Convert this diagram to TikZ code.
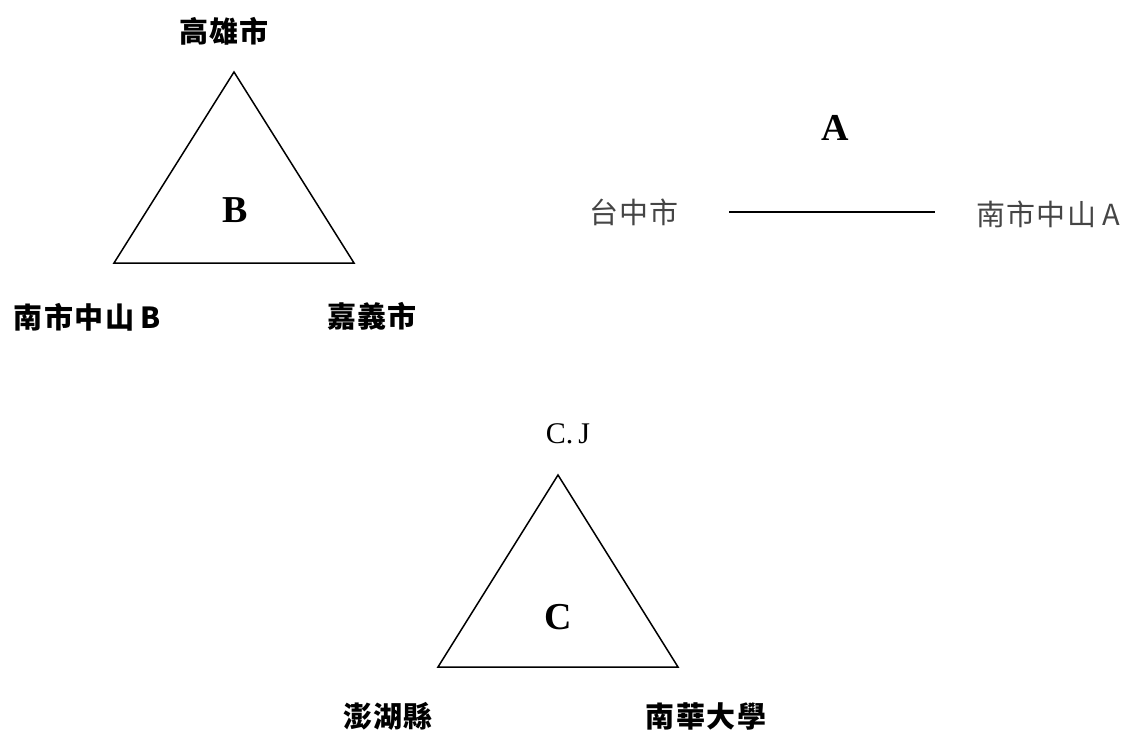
\documentclass[tikz,border=0pt]{standalone}
\usepackage{fontspec}
\setmainfont{Liberation Serif}
\newfontfamily\cjk[LetterSpace=5]{Noto Sans CJK TC}
\definecolor{softgray}{HTML}{454545}
\begin{document}
\begin{tikzpicture}[x=1pt,y=-1pt,
  tri/.style={line width=1.5pt, line join=miter},
  lbl/.style={font=\cjk\fontsize{29}{29}\selectfont\bfseries, inner sep=0pt},
  lightlbl/.style={font=\cjk\fontsize{29}{29}\selectfont, text=softgray, inner sep=0pt},
  plainlbl/.style={font=\rmfamily\fontsize{30}{30}\selectfont, inner sep=0pt},
  big/.style={font=\fontsize{38}{38}\selectfont\bfseries, inner sep=0pt}]
\useasboundingbox (0,0) rectangle (1128,734);
% Triangle B
\coordinate (b1) at (234,72);
\coordinate (b2) at (114,263);
\coordinate (b3) at (354,263);
\draw[tri] (b1) -- (b2) -- (b3) -- cycle;
\node[big] (bL) at (235,210) {B};
\node[lbl] (kh) at (224,31) {高雄市};
\node[lbl] (nsb) at (87,317) {南市中山\hspace{6pt}B};
\node[lbl] (cy) at (372,316) {嘉義市};
% A
\node[big] (aL) at (835,128) {A};
\node[lightlbl] (tc) at (634,212) {台中市};
\node[lightlbl] (nsa) at (1048,214) {南市中山\hspace{6pt}A};
\coordinate (a1) at (729,212);
\coordinate (a2) at (935,212);
\draw[line width=2pt] (a1) -- (a2);
% Triangle C
\coordinate (c1) at (558,475);
\coordinate (c2) at (438,667);
\coordinate (c3) at (678,667);
\draw[tri] (c1) -- (c2) -- (c3) -- cycle;
\node[big] (cL) at (558,617) {C};
\node[plainlbl] (cj) at (568,434) {C.\hspace{5pt}J};
\node[lbl] (ph) at (388,716) {澎湖縣};
\node[lbl] (nh) at (706,716) {南華大學};
\end{tikzpicture}
\end{document}
